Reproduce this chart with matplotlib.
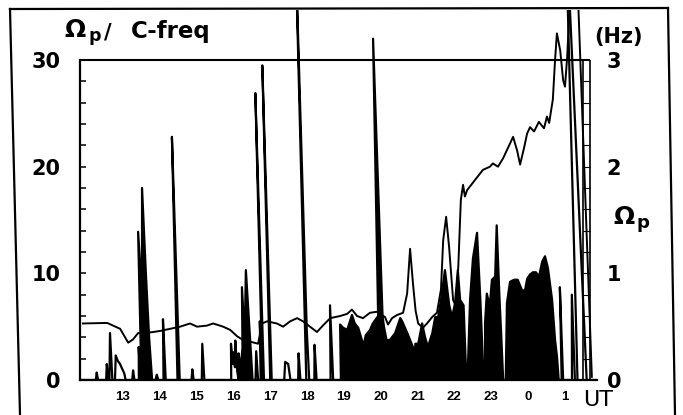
import numpy as np
import matplotlib
matplotlib.use("Agg")
import matplotlib.pyplot as plt
import matplotlib.transforms as mtransforms
from matplotlib.lines import Line2D

plt.rcParams['font.family'] = ['DejaVu Sans']

# =====================================================
# DATA (time in hours UT, 24 -> 0, 25 -> 1)
# =====================================================
hour_ticks = [13, 14, 15, 16, 17, 18, 19, 20, 21, 22, 23, 24, 25]
hour_labels = ["13", "14", "15", "16", "17", "18", "19", "20", "21", "22", "23", "0", "1"]

# Omega_p trace (left scale, 10 = 1 Hz)
op_t = [11.91, 12.57, 12.92, 13.14, 13.27, 13.41, 13.60, 13.82, 14.01, 14.28,
        14.55, 14.82, 15.01, 15.28, 15.45, 15.72, 15.91, 16.10, 16.26, 16.45,
        16.67, 16.78, 16.91, 17.18, 17.35, 17.54, 17.73, 17.89, 18.08, 18.27,
        18.43, 18.63, 18.90, 19.09, 19.22, 19.36, 19.52, 19.71, 19.90, 20.12,
        20.20, 20.31, 20.45, 20.61, 20.72, 20.80, 20.88, 20.95, 21.02, 21.15,
        21.26, 21.40, 21.53, 21.64, 21.70, 21.78, 21.86, 21.97, 22.05, 22.11,
        22.18, 22.24, 22.29, 22.35, 22.62, 22.78, 22.97, 23.05, 23.19, 23.33,
        23.52, 23.60, 23.71, 23.79, 23.90, 23.98, 24.06, 24.17, 24.30, 24.44,
        24.52, 24.58, 24.68, 24.74, 24.79, 24.88, 24.96, 25.01, 25.07, 25.15,
        25.30, 25.74]
op_v = [5.3, 5.35, 4.8, 3.5, 3.8, 4.4, 4.4, 4.5, 4.6, 4.8,
        5.0, 5.3, 5.0, 5.1, 5.3, 5.0, 4.7, 4.1, 3.75, 3.6,
        3.4, 5.3, 5.5, 5.3, 5.0, 5.5, 5.8, 5.5, 5.0, 4.5,
        5.1, 5.8, 6.0, 6.2, 6.6, 6.0, 5.8, 6.3, 6.4, 5.9,
        5.2, 5.8, 6.1, 6.3, 8.1, 12.3, 9.0, 6.5, 5.3, 4.9,
        5.3, 5.9, 6.3, 8.5, 13.1, 15.3, 12.5, 7.5, 6.9, 10.6,
        16.9, 18.3, 17.2, 17.8, 19.0, 19.7, 20.0, 20.3, 20.0, 20.8,
        22.2, 22.8, 21.5, 20.2, 21.8, 23.1, 23.7, 23.3, 24.2, 23.6,
        24.7, 24.1, 26.3, 30.0, 32.5, 30.9, 28.1, 27.5, 30.3, 36.0,
        42.0, 0.3]

# Omega_p / C-freq trace (recorder time, the pen arc skews it)
cf_t = [11.83,
        12.26, 12.29, 12.32, 12.54, 12.57, 12.60, 12.63, 12.68, 12.71,
        12.78, 12.82, 12.87, 12.93, 12.98, 13.04, 13.07,
        13.25, 13.28, 13.31, 13.43, 13.45, 13.47,
        13.50, 13.52, 13.58, 13.66, 13.70, 13.74, 13.79,
        13.88, 13.92, 13.96, 14.10, 14.13, 14.16, 14.48, 14.51, 14.54,
        14.86, 14.89, 14.92, 15.14, 15.18, 15.21,
        15.94, 15.96, 15.99, 16.02, 16.05, 16.08, 16.11,
        16.14, 16.16, 16.20, 16.27, 16.30, 16.34, 16.42, 16.47, 16.52,
        16.60, 16.64, 16.67, 16.74, 16.76, 16.78, 16.79, 16.81, 16.83,
        17.00, 17.02, 17.04, 17.38, 17.42, 17.50, 17.55,
        17.76, 17.79, 17.82, 17.98, 18.01, 18.03, 18.06,
        18.20, 18.23, 18.26, 18.64, 18.68, 18.71,
        18.92, 18.94, 19.02, 19.13, 19.21, 19.27, 19.34, 19.43, 19.52, 19.55,
        19.63, 19.75, 19.83, 19.98, 20.05, 20.10, 20.13, 20.19, 20.28, 20.43,
        20.58, 20.63, 20.76, 20.83, 20.90, 20.93, 20.95, 20.97, 21.05, 21.17,
        21.24, 21.31, 21.44, 21.53, 21.61, 21.70, 21.83, 21.92, 21.99, 22.08,
        22.18, 22.22, 22.31, 22.33, 22.36, 22.49, 22.60, 22.73, 22.77, 22.80,
        22.84, 22.88, 22.95, 23.02, 23.10, 23.19, 23.27, 23.29, 23.31, 23.33,
        23.40, 23.49, 23.59, 23.70, 23.80, 23.91, 23.99, 24.06, 24.14, 24.22,
        24.30, 24.38, 24.48, 24.56, 24.63, 24.72, 24.77, 24.81, 24.84,
        24.92, 24.94, 24.96, 25.20, 25.26, 25.28, 25.35, 25.37, 25.60, 25.88]
cf_v = [0,
        0, 0.7, 0, 0, 1.5, 0, 0, 4.4, 0,
        0, 2.3, 1.8, 1.5, 1.1, 0.6, 0,
        0, 0.9, 0, 0, 3.1, 0,
        0, 13.9, 8.0, 18.0, 10.0, 4.0, 0,
        0, 0.5, 0, 0, 5.7, 0, 0, 22.8, 0,
        0, 1.0, 0, 0, 3.4, 0,
        0, 3.4, 1.5, 2.6, 1.2, 3.7, 0.8,
        0, 2.5, 1.0, 3.0, 8.7, 4.0, 10.3, 5.0, 0,
        0, 2.7, 0, 0, 5.5, 0, 0, 26.9, 0,
        0, 29.5, 0, 0, 1.7, 1.5, 0,
        0, 2.5, 0, 0, 40.0, 4.7, 0,
        0, 3.3, 0, 0, 7.0, 0,
        0, 5.2, 4.9, 4.7, 5.5, 6.1, 5.3, 4.9, 3.75, 3.1,
        4.2, 4.7, 5.3, 6.0, 32.0, 6.0, 5.0, 3.75, 3.75, 4.4,
        5.8, 5.5, 4.4, 3.75, 3.1, 3.0, 0, 3.4, 3.4, 5.3,
        4.0, 3.1, 4.4, 5.9, 5.9, 7.5, 10.3, 7.0, 5.9, 7.2,
        10.3, 7.5, 7.0, 0, 0, 7.5, 11.4, 13.8, 7.5, 0,
        0, 5.3, 8.1, 6.9, 9.4, 9.7, 14.5, 8.0, 4.4, 0,
        0, 7.2, 9.2, 9.4, 9.4, 8.4, 8.4, 9.5, 9.9, 10.1,
        10.1, 9.7, 11.1, 11.6, 10.5, 7.5, 3.75, 2.2, 0,
        0, 8.7, 0, 0, 8.0, 0, 0, 45.0, 0, 0]

cf_t = np.array(cf_t)
cf_v = np.array(cf_v)

# =====================================================
# FIGURE
# =====================================================
W, H = 683, 415
fig = plt.figure(figsize=(W / 100, H / 100), dpi=100)
ax = fig.add_axes([80 / W, 35 / H, 517 / W, 370 / H])
ax.set_xlim(11.83, 25.88)
ax.set_ylim(0, 34.69)

# pen-arc skew of the chart recorder
skew = mtransforms.Affine2D(np.array([[1.0, -0.008, 0.0],
                                      [0.0, 1.0, 0.0],
                                      [0.0, 0.0, 1.0]]))
rec = skew + ax.transData

solid = ((cf_t >= 13.49) & (cf_t <= 13.80)) | ((cf_t >= 16.13) & (cf_t <= 16.53)) \
    | ((cf_t >= 18.91) & (cf_t <= 24.85))
ax.fill_between(cf_t, 0, cf_v, where=solid, color="black", lw=0, transform=rec)
ax.plot(cf_t, cf_v, color="black", lw=1.6, transform=rec)

ax.plot(op_t, op_v, color="black", lw=1.4)

# box: top line at 30 and the ladder on the right
ax.hlines(30, 11.83, 25.69, color="black", lw=1.5)
ax.vlines([25.50, 25.69], 0, 30, color="black", lw=1.2)
ax.hlines(np.arange(2, 30, 2), 25.50, 25.69, color="black", lw=0.8)

for s in ["top", "right"]:
    ax.spines[s].set_visible(False)
ax.spines["left"].set_bounds(0, 30)
ax.spines["left"].set_linewidth(1.6)
ax.spines["bottom"].set_linewidth(1.6)

ax.set_xticks(hour_ticks)
ax.set_xticklabels(hour_labels, fontsize=9.5, fontweight="bold",
                   family="Liberation Sans")
ax.tick_params(axis="x", length=0, pad=8)

ax.set_yticks([0, 10, 20, 30])
ax.set_yticks(np.arange(0, 31, 2), minor=True)
ax.tick_params(axis="y", which="both", direction="in", length=4.5, width=1.1,
               labelsize=15, pad=14)
for lb in ax.get_yticklabels():
    lb.set_fontweight("bold")

ax2 = ax.twinx()
ax2.set_ylim(0, 3.469)
ax2.set_yticks([0, 1, 2, 3])
ax2.tick_params(axis="y", length=0, labelsize=15, pad=7)
for lb in ax2.get_yticklabels():
    lb.set_fontweight("bold")
for s in ax2.spines.values():
    s.set_visible(False)

# =====================================================
# TEXT
# =====================================================
fig.text(64 / W, 1 - 37 / H, "Ω", fontsize=18, fontweight="bold", va="baseline")
fig.text(88 / W, 1 - 41 / H, "p", fontsize=12.5, fontweight="bold", va="baseline")
fig.text(104 / W, 1 - 38 / H, "/", fontsize=15, fontweight="bold", va="baseline")
fig.text(131 / W, 1 - 38 / H, "C-freq", fontsize=16.5, fontweight="bold", va="baseline")
fig.text(618 / W, 1 - 37 / H, "(Hz)", fontsize=15, fontweight="bold",
         ha="center", va="center")
fig.text(613 / W, 1 - 224 / H, "Ω", fontsize=18, fontweight="bold", va="baseline")
fig.text(637 / W, 1 - 228 / H, "p", fontsize=13, fontweight="bold", va="baseline")
fig.text(598 / W, 1 - 400 / H, "UT", fontsize=16, ha="center", va="center")

# outer frame of the scanned figure
for (x0, y0), (x1, y1) in [((10, 9), (668, 8)), ((10, 9), (20, 415)), ((668, 8), (675, 415))]:
    fig.add_artist(Line2D([x0 / W, x1 / W], [1 - y0 / H, 1 - y1 / H],
                          transform=fig.transFigure, color="black", lw=1.6))

fig.savefig("out.png", dpi=100)
